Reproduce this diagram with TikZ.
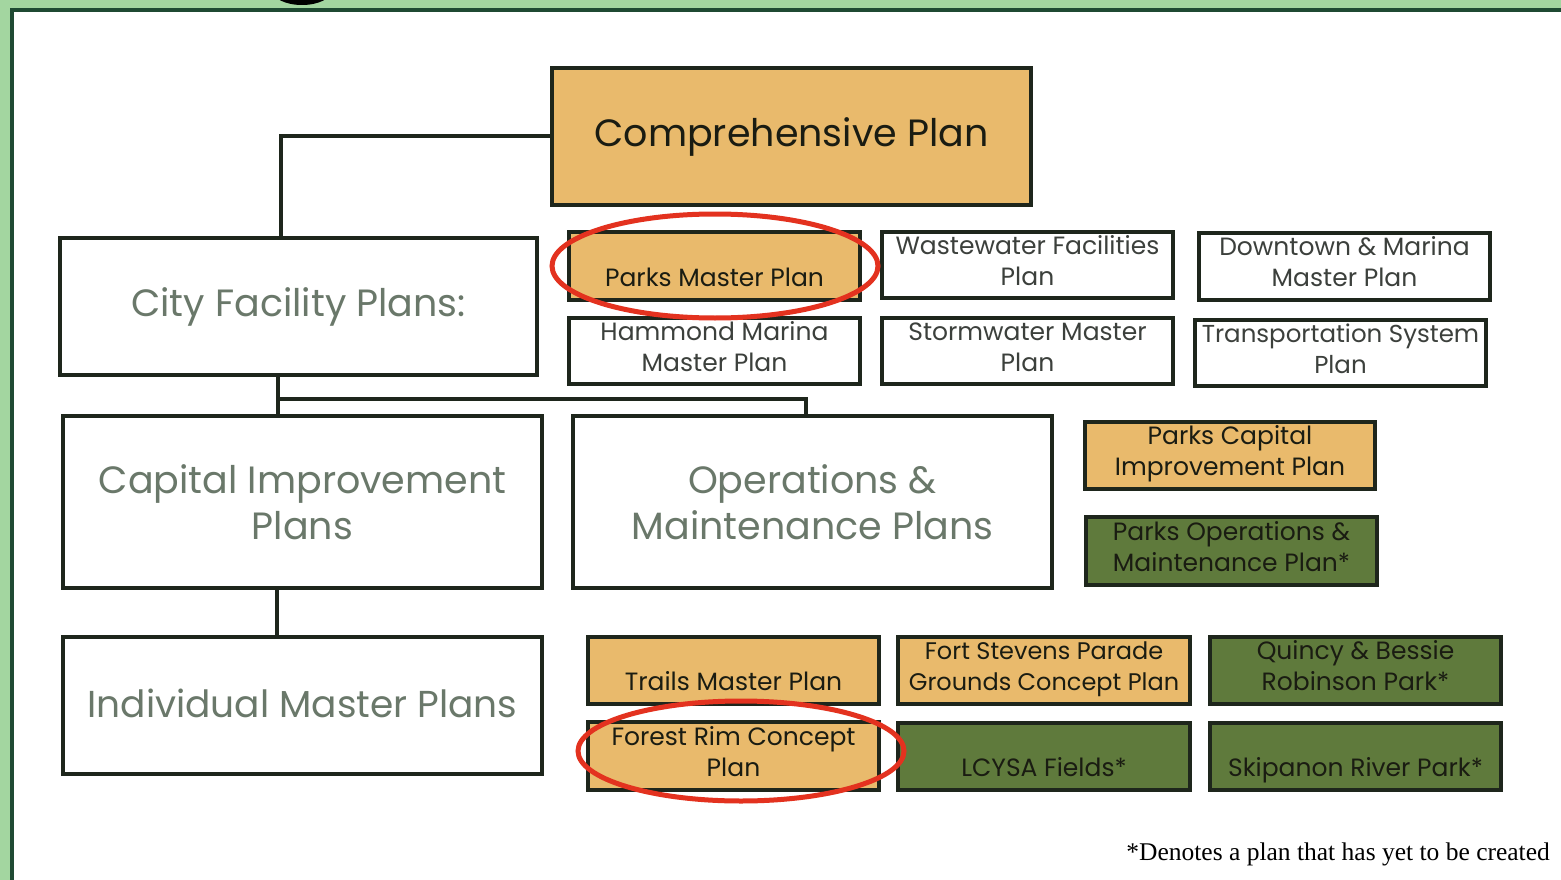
\documentclass[tikz,border=0pt]{standalone}
\usepackage{fontspec}
\newfontfamily\gothic{Poppins}
\newfontfamily\footserif{Liberation Serif}
\newcommand\ls{\rule[-11pt]{0pt}{31pt}}
\definecolor{bggreen}{HTML}{A3D6A0}
\definecolor{framegreen}{HTML}{1F4A33}
\definecolor{boxline}{HTML}{1E261C}
\definecolor{tan}{HTML}{E9BA6C}
\definecolor{olive}{HTML}{5F7A3C}
\definecolor{bigtext}{HTML}{6A786A}
\definecolor{smalltext}{HTML}{3C403C}
\definecolor{darktext}{HTML}{1A1C12}
\definecolor{ring}{HTML}{E3321F}
\tikzset{
  base/.style={draw=boxline, line width=3.5pt, inner sep=0pt, align=center, font=\gothic},
  bigbox/.style={base, fill=white, text=bigtext, font=\gothic\fontsize{38}{46}\selectfont},
  whitebox/.style={base, fill=white, text=smalltext, font=\gothic\fontsize{25}{31}\selectfont, minimum width=291pt},
  tanbox/.style={base, fill=tan, text=darktext, font=\gothic\fontsize{25}{31}\selectfont, minimum width=291pt},
  olivebox/.style={base, fill=olive, text=darktext, font=\gothic\fontsize{25}{31}\selectfont, minimum width=291pt},
  conn/.style={draw=boxline, line width=4pt},
  ringstyle/.style={draw=ring, line width=5pt},
}
\begin{document}
\begin{tikzpicture}[x=1pt, y=-1pt]
\useasboundingbox (0,0) rectangle (1561,880);
\fill[bggreen] (0,0) rectangle (1561,880);
\fill (302,-10) ellipse [x radius=30pt, y radius=15pt];
\draw[framegreen, line width=4pt, fill=white] (12,10) rectangle (1575,895);

% junction coordinates for connectors
\coordinate (j1) at (278,399);
\coordinate (cityN) at (281,238);
\coordinate (opsN) at (806,416);

% main column
\node[tanbox, minimum width=479pt, minimum height=137pt, font=\gothic\fontsize{38}{46}\selectfont] (comp) at (791.5,136.5) {Comprehensive Plan};
\node[bigbox, minimum width=477pt, minimum height=137pt] (city) at (298.5,306.5) {City Facility Plans:};
\node[bigbox, minimum width=479pt, minimum height=172pt] (cip) at (302.5,502) {Capital Improvement\\Plans};
\node[bigbox, minimum width=479pt, minimum height=172pt] (ops) at (812.5,502) {Operations \&\\Maintenance Plans};
\node[bigbox, minimum width=479pt, minimum height=137pt, font=\gothic\fontsize{37.5}{46}\selectfont] (imp) at (302.5,705.5) {\rule[-4pt]{0pt}{4pt}Individual Master Plans};

% city facility plans
\node[tanbox, minimum height=68pt] (pmp) at (714.5,266) {\ls\\\ls Parks Master Plan};
\node[whitebox, minimum height=66pt] (waste) at (1027.5,265) {\ls Wastewater Facilities\\\ls Plan};
\node[whitebox, minimum height=67pt] (down) at (1344.5,266.5) {\ls Downtown \& Marina\\\ls Master Plan};
\node[whitebox, minimum height=66pt] (hamm) at (714.5,351) {\ls Hammond Marina\\\ls Master Plan};
\node[whitebox, minimum height=66pt] (storm) at (1027.5,351) {\ls Stormwater Master\\\ls Plan};
\node[whitebox, minimum height=66pt, font=\gothic\fontsize{24.5}{31}\selectfont] (trans) at (1340.5,353) {\ls Transportation System\\\ls Plan};

% parks plans
\node[tanbox, minimum width=290pt, minimum height=67pt] (pcip) at (1230,455.5) {\ls Parks Capital\\\ls Improvement Plan};
\node[olivebox, minimum height=68pt] (pom) at (1231.5,551) {\ls Parks Operations \&\\\ls Maintenance Plan*};

% individual master plans
\node[tanbox, minimum height=67pt] (trails) at (733.5,670.5) {\ls\\\ls Trails Master Plan};
\node[tanbox, minimum width=292pt, minimum height=67pt, font=\gothic\fontsize{24}{31}\selectfont] (fort) at (1044,670.5) {\ls Fort Stevens Parade\\\ls Grounds Concept Plan};
\node[olivebox, minimum height=67pt] (quincy) at (1355.5,670.5) {\ls Quincy \& Bessie\\\ls Robinson Park*};
\node[tanbox, minimum height=68pt] (forest) at (733.5,756) {\ls Forest Rim Concept\\\ls Plan};
\node[olivebox, minimum width=292pt, minimum height=67pt] (lcysa) at (1044,756.5) {\ls\\\ls LCYSA Fields*};
\node[olivebox, minimum height=67pt] (skip) at (1355.5,756.5) {\ls\\\ls Skipanon River Park*};

% connectors
\draw[conn] (comp.west) -| (cityN);
\draw[conn] (city.south -| j1) -- (cip.north -| j1);
\draw[conn] (j1) -| (opsN);
\draw[conn] (cip.south -| 277,0) -- (imp.north -| 277,0);

% red rings
\draw[ringstyle] (715,266) ellipse [x radius=163pt, y radius=52pt];
\draw[ringstyle] (741,751) ellipse [x radius=163pt, y radius=50pt];

% footnote
\node[anchor=base east, font=\footserif\fontsize{25.5}{30}\selectfont, text=black, inner sep=0pt] (note) at (1550,860) {*Denotes a plan that has yet to be created};
\end{tikzpicture}
\end{document}
